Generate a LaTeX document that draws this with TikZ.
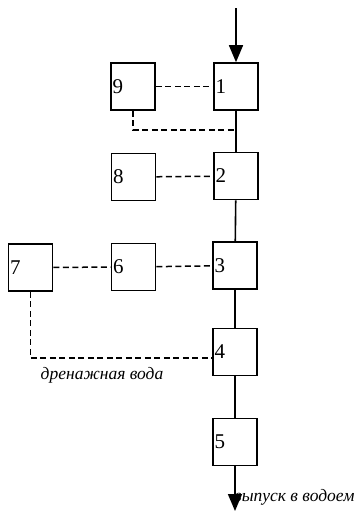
\documentclass[tikz,border=0pt]{standalone}
\usepackage{fontspec}
\setmainfont{Liberation Serif}
\usetikzlibrary{arrows.meta}

\begin{document}
\begin{tikzpicture}[x=1pt, y=-1pt,
    block/.style={rectangle, draw=black, line width=1.6pt, fill=white,
                  minimum width=44pt, minimum height=47pt, text width=41pt,
                  align=left, inner sep=1.5pt, font=\fontsize{21}{21}\selectfont},
    flow/.style={black, line width=1.6pt},
    drain/.style={black, line width=1.5pt, dash pattern=on 6pt off 3.5pt},
    arr/.style={-{Triangle[length=17pt, width=14pt]}, black, line width=1.6pt},
    note/.style={font=\fontsize{17.5}{17.5}\selectfont\itshape},
]
\useasboundingbox (0,0) rectangle (356,512);

% main column
\node[block] (b1) at (236, 86.5) {1};
\node[block] (b2) at (236, 176)  {2};
\node[block] (b3) at (235, 265.5) {3};
\node[block] (b4) at (235, 352)  {4};
\node[block] (b5) at (235, 442)  {5};

% side units
\node[block] (b9) at (133, 86.5) {9};
\node[block] (b8) at (133.5, 177) {8};
\node[block] (b6) at (133.5, 267) {6};
\node[block] (b7) at (30.5, 267.5) {7};

\coordinate (inlet)  at (236, 8);
\coordinate (outlet) at (235, 511);
\coordinate (ret)    at (236, 130);

\draw[arr]  (inlet) -- (b1);
\draw[flow] (b1) -- (b2);
\draw[flow] (b2) -- (b3);
\draw[flow] (b3) -- (b4);
\draw[flow] (b4) -- (b5);
\draw[arr]  (b5) -- (outlet);

\draw[drain] (b9) -- (b1);
\draw[drain] (b9.south) |- (ret);
\draw[drain] (b8) -- (b2);
\draw[drain] (b7) -- (b6);
\draw[drain] (b6) -- (b3);
\draw[drain] (b7.south) |- ([yshift=-6pt]b4.west);

\node[note] (drainlbl) at (102, 375) {дренажная вода};
\node[note, anchor=west, inner sep=0pt] (outlbl) at (234, 497) {выпуск в водоем};
\end{tikzpicture}
\end{document}
